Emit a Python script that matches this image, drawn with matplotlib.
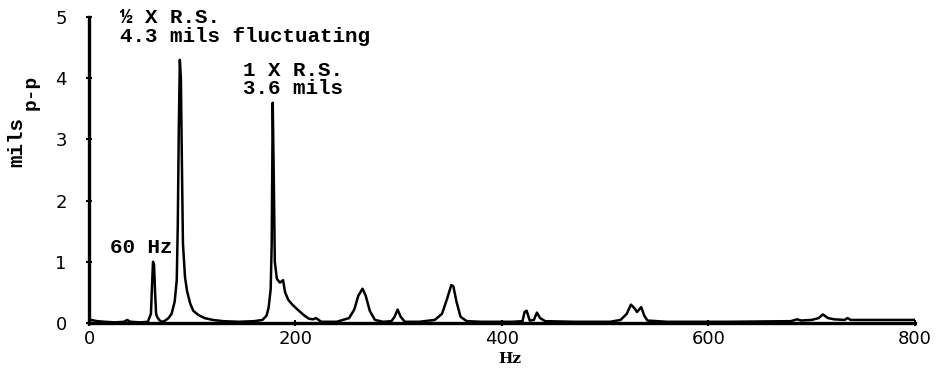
import matplotlib.pyplot as plt

# vibration spectrum, amplitude in mils peak-to-peak vs frequency in Hz
freq_hz = [0, 2, 8, 15, 25, 34, 37, 40, 50, 57, 60, 61, 62, 63, 64, 65, 66, 68, 70,
           73, 77, 80, 83, 85, 86, 87, 88, 89, 90, 91, 93, 95, 98, 101, 106, 112, 120, 130,
           145, 160, 168, 172, 174, 176, 177, 178, 179, 180, 182, 185, 188, 190, 193, 197,
           202, 208, 213, 217, 220, 225, 240, 252, 257, 261, 265, 268, 272, 277, 285, 293,
           296, 299, 302, 306, 320, 335, 342, 347, 351, 353, 356, 360, 366, 380, 410, 420,
           422, 424, 427, 431, 434, 437, 442, 470, 505, 515, 521, 525, 528, 531, 535, 538,
           541, 560, 620, 680, 686, 690, 700, 707, 711, 716, 722, 732, 735, 738, 770, 800]
amp_mils = [0.06, 0.05, 0.03, 0.02, 0.01, 0.02, 0.05, 0.02, 0.01, 0.02, 0.15, 0.6, 1.0, 0.95, 0.5, 0.15, 0.1, 0.05, 0.02,
            0.03, 0.08, 0.15, 0.35, 0.7, 1.6, 3.2, 4.3, 4.0, 2.6, 1.3, 0.75, 0.52, 0.32, 0.2, 0.13, 0.08, 0.05, 0.03,
            0.02, 0.03, 0.05, 0.12, 0.25, 0.55, 1.3, 3.6, 2.4, 1.0, 0.72, 0.66, 0.7, 0.5, 0.38, 0.3,
            0.22, 0.13, 0.07, 0.06, 0.08, 0.02, 0.02, 0.08, 0.22, 0.45, 0.56, 0.45, 0.2, 0.05, 0.02, 0.03,
            0.1, 0.22, 0.1, 0.02, 0.02, 0.05, 0.15, 0.4, 0.62, 0.6, 0.35, 0.1, 0.03, 0.02, 0.02, 0.03,
            0.18, 0.2, 0.04, 0.05, 0.17, 0.08, 0.03, 0.02, 0.02, 0.05, 0.15, 0.3, 0.25, 0.18, 0.26, 0.12,
            0.04, 0.02, 0.02, 0.03, 0.06, 0.04, 0.05, 0.08, 0.14, 0.08, 0.06, 0.05, 0.08, 0.05, 0.05, 0.05]

x_ticks = [0, 200, 400, 600, 800]
y_ticks = [0, 1, 2, 3, 4, 5]

mono = 'Liberation Mono'

fig = plt.figure(figsize=(9.43, 3.71), dpi=100)
ax = fig.add_axes([0.0944, 0.1294, 0.8756, 0.8246])
ax.plot(freq_hz, amp_mils, color='black', lw=1.8, solid_joinstyle='round')

ax.set_xlim(0, 800)
ax.set_ylim(0, 5)
ax.set_xticks(x_ticks)
ax.set_yticks(y_ticks)
ax.tick_params(direction='inout', length=4, width=1.5, labelsize=13)
ax.tick_params(axis='x', pad=3)
ax.tick_params(axis='y', pad=14)
for side in ('top', 'right'):
    ax.spines[side].set_visible(False)
for side in ('left', 'bottom'):
    ax.spines[side].set_linewidth(2.4)

# peak notes
kw = dict(family=mono, fontweight='bold', fontsize=15, color='black')
ax.text(30, 5.0, '½ X R.S.', ha='left', va='center', **kw)
ax.text(30, 4.68, '4.3 mils fluctuating', ha='left', va='center', **kw)
ax.text(149, 4.12, '1 X R.S.', ha='left', va='center', **kw)
ax.text(149, 3.84, '3.6 mils', ha='left', va='center', **kw)
ax.text(20, 1.23, '60 Hz', ha='left', va='center', **kw)

# axis titles
fig.text(0.018, 0.617, 'mils', rotation=90, ha='center', va='center',
         family=mono, fontweight='bold', fontsize=15)
fig.text(0.033, 0.752, 'p-p', rotation=90, ha='center', va='center',
         family=mono, fontweight='bold', fontsize=14)
fig.text(0.541, 0.032, 'Hz', ha='center', va='center',
         family='DejaVu Serif', fontweight='bold', fontsize=11)

fig.savefig('out.png', dpi=100)
